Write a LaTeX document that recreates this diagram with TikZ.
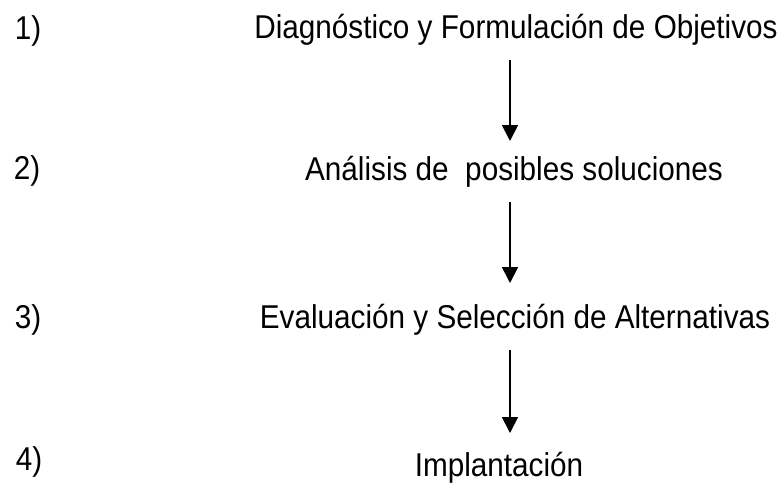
\documentclass[tikz,border=0pt]{standalone}
\usepackage{fontspec}
\setmainfont[FakeStretch=0.9]{Liberation Sans}
\usetikzlibrary{arrows.meta}
\begin{document}
\begin{tikzpicture}[x=1pt, y=-1pt,
    paso/.style={inner sep=0pt, font=\fontsize{33}{36}\selectfont},
    num/.style={inner sep=0pt, font=\fontsize{33}{36}\selectfont},
    flecha/.style={line width=1.8pt, -{Triangle[width=16pt,length=16pt]}}]
    \useasboundingbox (0, 0) rectangle (778, 485);

    \node [num] (n1) at (28, 31) {1)};
    \node [num] (n2) at (27, 171) {2)};
    \node [num] (n3) at (28, 320) {3)};
    \node [num] (n4) at (29, 462) {4)};

    \node [paso] (t1) at (516, 30) {Diagnóstico y Formulación de Objetivos};
    \node [paso] (t2) at (514, 172) {Análisis de~ posibles soluciones};
    \node [paso] (t3) at (515, 320) {Evaluación y Selección de Alternativas};
    \node [paso] (t4) at (499, 468) {Implantación};

    \coordinate (a1) at (510, 60);  \coordinate (b1) at (510, 141);
    \coordinate (a2) at (510, 202); \coordinate (b2) at (510, 283);
    \coordinate (a3) at (510, 350); \coordinate (b3) at (510, 433);

    \draw [flecha] (a1) -- (b1);
    \draw [flecha] (a2) -- (b2);
    \draw [flecha] (a3) -- (b3);
\end{tikzpicture}
\end{document}
